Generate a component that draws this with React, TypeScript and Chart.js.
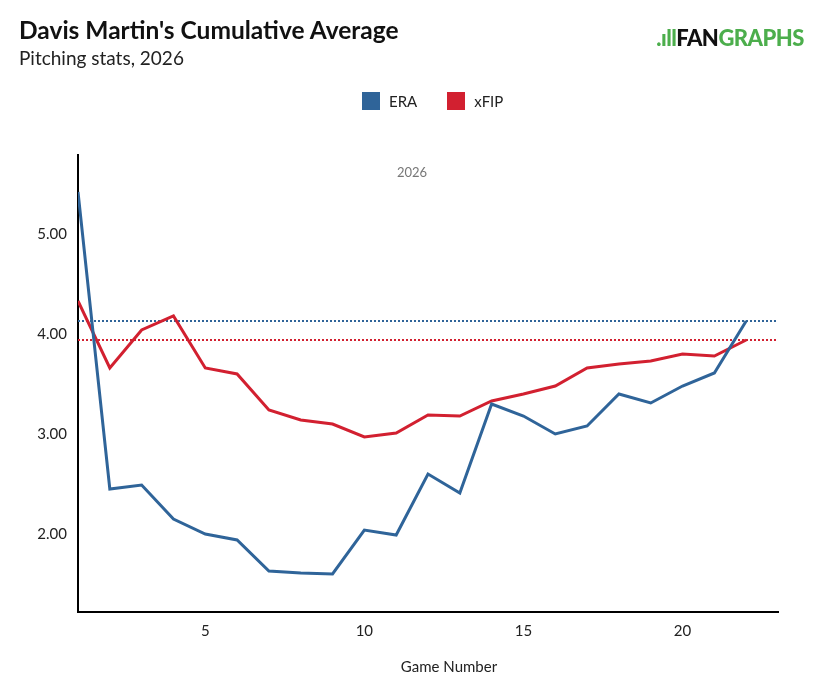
import React, { useEffect, useRef } from "react";
import { Chart, registerables } from "chart.js";
Chart.register(...registerables);

const games = [1,2,3,4,5,6,7,8,9,10,11,12,13,14,15,16,17,18,19,20,21,22];
const era = [5.42,2.45,2.49,2.15,2.0,1.94,1.63,1.61,1.6,2.04,1.99,2.6,2.41,3.3,3.18,3.0,3.08,3.4,3.31,3.48,3.61,4.13];
const xfip = [4.33,3.66,4.04,4.18,3.66,3.6,3.24,3.14,3.1,2.97,3.01,3.19,3.18,3.33,3.4,3.48,3.66,3.7,3.73,3.8,3.78,3.94];
const eraAvg = 4.13;
const xfipAvg = 3.94;
const xTicks = [5, 10, 15, 20];
const yTicks = [2, 3, 4, 5];

const BLUE = "#2f6499";
const RED = "#d22030";
const FONT = "Lato, 'Open Sans', sans-serif";

export default function App() {
  const ref = useRef<HTMLCanvasElement>(null);
  useEffect(() => {
    const labels = {
      id: "labels",
      afterDraw(c: any) {
        const { ctx, chartArea } = c;
        const cx = (chartArea.left + chartArea.right) / 2;
        ctx.save();
        ctx.textAlign = "center";
        ctx.fillStyle = "#777";
        ctx.font = `13px ${FONT}`;
        ctx.fillText("2026", cx - 16, chartArea.top + 22);
        ctx.fillStyle = "#222";
        ctx.font = `15px ${FONT}`;
        ctx.fillText("Game Number", cx + 21, chartArea.bottom + 60);
        ctx.restore();
      },
    };
    const chart = new Chart(ref.current!, {
      type: "line",
      data: {
        datasets: [
          { label: "ERA", data: games.map((g, i) => ({ x: g, y: era[i] })), borderColor: BLUE, borderWidth: 3, pointRadius: 0, tension: 0 },
          { label: "xFIP", data: games.map((g, i) => ({ x: g, y: xfip[i] })), borderColor: RED, borderWidth: 3, pointRadius: 0, tension: 0 },
          { label: "eraAvg", data: [{ x: 1, y: eraAvg }, { x: 23, y: eraAvg }], borderColor: BLUE, borderWidth: 2, borderDash: [2, 2], pointRadius: 0 },
          { label: "xfipAvg", data: [{ x: 1, y: xfipAvg }, { x: 23, y: xfipAvg }], borderColor: RED, borderWidth: 2, borderDash: [2, 2], pointRadius: 0 },
        ],
      },
      plugins: [labels],
      options: {
        animation: false,
        responsive: false,
        layout: { padding: { top: 147, right: 36, left: 0, bottom: 0 } },
        plugins: { legend: { display: false }, tooltip: { enabled: false } },
        scales: {
          x: {
            type: "linear", min: 1, max: 23,
            afterBuildTicks: (s: any) => { s.ticks = xTicks.map((v) => ({ value: v })); },
            afterFit: (s: any) => { s.height = 73; },
            grid: { display: false, drawTicks: true, tickLength: 6, color: "#000" },
            border: { color: "#000", width: 2 },
            ticks: { color: "#222", font: { family: FONT, size: 15 }, padding: 4 },
          },
          y: {
            min: 1.22, max: 5.79,
            afterBuildTicks: (s: any) => { s.ticks = yTicks.map((v) => ({ value: v })); },
            afterFit: (s: any) => { s.width = 70; },
            grid: { display: false },
            border: { color: "#000", width: 2 },
            ticks: { color: "#222", font: { family: FONT, size: 15 }, callback: (v: any) => Number(v).toFixed(2) },
          },
        },
      },
    });
    return () => chart.destroy();
  }, []);
  return (
    <div style={{ position: "relative", width: 806, height: 677, fontFamily: FONT }}>
      <canvas ref={ref} width={806} height={677} style={{ position: "absolute", left: 0, top: 0 }} />
      <div style={{ position: "absolute", left: 11, top: 7, fontSize: 24.5, fontWeight: 700, color: "#111" }}>Davis Martin's Cumulative Average</div>
      <div style={{ position: "absolute", left: 11, top: 38, fontSize: 19, color: "#222" }}>Pitching stats, 2026</div>
      <div style={{ position: "absolute", right: 10, top: 16, fontSize: 22, fontWeight: 900, letterSpacing: -0.5 }}>
        <span style={{ color: "#4cae4c" }}>.ıll</span><span style={{ color: "#111" }}>FAN</span><span style={{ color: "#4cae4c" }}>GRAPHS</span>
      </div>
      <div style={{ position: "absolute", left: 354, top: 84, display: "flex", gap: 30, fontSize: 15, color: "#222" }}>
        <span style={{ display: "flex", alignItems: "center" }}><span style={{ width: 18, height: 18, background: BLUE, marginRight: 9 }} />ERA</span>
        <span style={{ display: "flex", alignItems: "center" }}><span style={{ width: 18, height: 18, background: RED, marginRight: 9 }} />xFIP</span>
      </div>
    </div>
  );
}
